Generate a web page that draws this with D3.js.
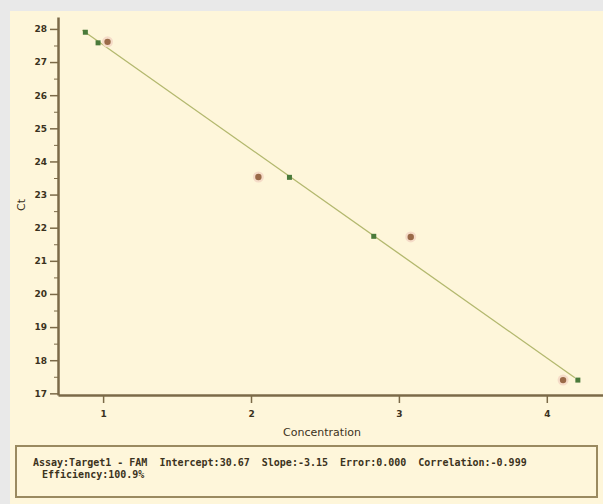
<!DOCTYPE html>
<html>
<head>
<meta charset="utf-8">
<script src="https://cdn.jsdelivr.net/npm/d3@7"></script>
<style>
  body { margin: 0; background: #e9e9e9; }
  .axis path, .axis line { stroke: #7b6a48; }
  .axis text { fill: #3b3220; font-family: "DejaVu Sans", sans-serif; font-size: 9px; font-weight: bold; }
</style>
</head>
<body>
<script>
// standaarden (groen) en onbekenden (rood)
var stdConc = [0.88, 0.966, 2.26, 2.83, 4.21];
var stdCt = [27.90, 27.58, 23.52, 21.74, 17.40];
var unkConc = [1.03, 2.05, 3.08, 4.11];
var unkCt = [27.61, 23.53, 21.72, 17.40];

// regressielijn
var fitIntercept = 30.67;
var fitSlope = -3.15;
var fitRange = [0.86, 4.19];

var xTicks = [1, 2, 3, 4];
var yTicks = [17, 18, 19, 20, 21, 22, 23, 24, 25, 26, 27, 28];
var yMinor = [17.5, 18.5, 19.5, 20.5, 21.5, 22.5, 23.5, 24.5, 25.5, 26.5, 27.5];

var legendLines = [
    "Assay:Target1 - FAM  Intercept:30.67  Slope:-3.15  Error:0.000  Correlation:-0.999",
    "Efficiency:100.9%"
];

var W = 603, H = 504;

var svg = d3.select("body").append("svg")
    .attr("width", W)
    .attr("height", H);

// achtergrond
svg.append("rect")
    .attr("x", 10).attr("y", 11)
    .attr("width", W - 10).attr("height", H - 11)
    .attr("fill", "#fef6da");

var x = d3.scaleLinear()
    .domain([0.695, 4.38])
    .range([58, 603]);
var y = d3.scaleLinear()
    .domain([16.95, 28.36])
    .range([395, 17]);

// y as
svg.append("g")
    .attr("class", "axis")
    .attr("transform", "translate(58,0)")
    .call(d3.axisLeft(y).tickValues(yMinor).tickSize(4).tickFormat(""))
    .call(function(g) { g.select(".domain").remove(); });

svg.append("g")
    .attr("class", "axis")
    .attr("transform", "translate(58,0)")
    .call(d3.axisLeft(y).tickValues(yTicks).tickSizeInner(8).tickSizeOuter(0).tickPadding(3))
    .call(function(g) {
        g.select(".domain").attr("stroke-width", 2.5);
        g.selectAll("line").attr("stroke-width", 1.5);
    });

// x as
svg.append("g")
    .attr("class", "axis")
    .attr("transform", "translate(0,395)")
    .call(d3.axisBottom(x).tickValues(xTicks).tickSizeInner(8).tickSizeOuter(0).tickPadding(8).tickFormat(d3.format("d")))
    .call(function(g) {
        g.select(".domain").attr("stroke-width", 2.5);
        g.selectAll("line").attr("stroke-width", 1.5);
    });

// as titels
svg.append("text")
    .attr("x", 322).attr("y", 436)
    .attr("text-anchor", "middle")
    .attr("fill", "#3b3220")
    .style("font-family", "DejaVu Sans, sans-serif")
    .style("font-size", "11px")
    .text("Concentration");

svg.append("text")
    .attr("transform", "translate(25,205) rotate(-90)")
    .attr("text-anchor", "middle")
    .attr("fill", "#3b3220")
    .style("font-family", "DejaVu Sans, sans-serif")
    .style("font-size", "11px")
    .text("Ct");

// lijn
svg.append("line")
    .attr("x1", x(fitRange[0]))
    .attr("y1", y(fitIntercept + fitSlope * fitRange[0]))
    .attr("x2", x(fitRange[1]))
    .attr("y2", y(fitIntercept + fitSlope * fitRange[1]))
    .attr("stroke", "#b3b86e")
    .attr("stroke-width", 1.3);

// onbekenden
var unk = unkConc.map(function(c, i) { return { c: c, ct: unkCt[i] }; });
svg.selectAll(".halo").data(unk).enter().append("circle")
    .attr("cx", function(d) { return x(d.c); })
    .attr("cy", function(d) { return y(d.ct); })
    .attr("r", 5.5)
    .attr("fill", "#f5dcc8");
svg.selectAll(".unk").data(unk).enter().append("circle")
    .attr("cx", function(d) { return x(d.c); })
    .attr("cy", function(d) { return y(d.ct); })
    .attr("r", 3.2)
    .attr("fill", "#9a6a48");

// standaarden
var std = stdConc.map(function(c, i) { return { c: c, ct: stdCt[i] }; });
svg.selectAll(".std").data(std).enter().append("rect")
    .attr("x", function(d) { return x(d.c) - 2.5; })
    .attr("y", function(d) { return y(d.ct) - 2.5; })
    .attr("width", 5)
    .attr("height", 5)
    .attr("fill", "#4a7a3a");

// legenda
svg.append("rect")
    .attr("x", 16).attr("y", 446)
    .attr("width", 581).attr("height", 51)
    .attr("fill", "none")
    .attr("stroke", "#9a8a60")
    .attr("stroke-width", 2);

svg.selectAll(".leg").data(legendLines).enter().append("text")
    .attr("x", function(d, i) { return i === 0 ? 33 : 42; })
    .attr("y", function(d, i) { return 466 + i * 12; })
    .attr("fill", "#3b3220")
    .style("font-family", "DejaVu Sans Mono, monospace")
    .style("font-size", "10px")
    .style("font-weight", "bold")
    .style("white-space", "pre")
    .text(function(d) { return d; });
</script>
</body>
</html>
